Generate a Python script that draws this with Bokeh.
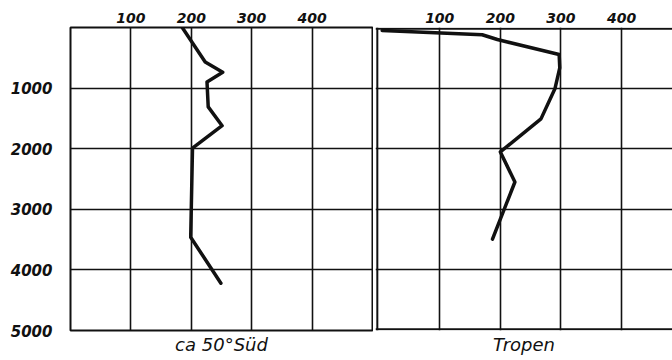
from bokeh.plotting import figure
from bokeh.layouts import row
from bokeh.models import Range1d, FixedTicker, LinearAxis, Span
from bokeh.embed import file_html
from bokeh.resources import INLINE

# Profile: Tiefe (m) gegen Messwert
sued_depth = [0, 570, 740, 900, 1310, 1620, 1990, 3460, 4220]
sued_value = [185, 223, 252, 226, 228, 251, 202, 199, 249]

tropen_depth = [30, 100, 180, 430, 650, 1000, 1500, 2050, 2550, 3500]
tropen_value = [5, 170, 195, 297, 298, 290, 267, 200, 224, 187]

x_ticks = [100, 200, 300, 400]
depth_ticks = [1000, 2000, 3000, 4000, 5000]
depth_inner = [1000, 2000, 3000, 4000]
depth_edges = [0, 5000]
panel_titles = ["ca 50°Süd", "Tropen"]

INK = "#111111"
FONT = "DejaVu Sans"


def bare_axis(axis):
    axis.axis_line_color = None
    axis.major_tick_line_color = None
    axis.minor_tick_line_color = None
    axis.major_tick_out = 0
    axis.major_tick_in = 0
    axis.minor_tick_out = 0
    axis.minor_tick_in = 0


def style_panel(p, title):
    p.background_fill_color = "white"
    p.border_fill_color = "white"
    p.xgrid.ticker = FixedTicker(ticks=x_ticks)
    p.ygrid.ticker = FixedTicker(ticks=depth_inner)
    for g in (p.xgrid, p.ygrid):
        g.grid_line_color = INK
        g.grid_line_width = 1.6
        g.grid_line_alpha = 1.0

    top = p.xaxis[0]
    bare_axis(top)
    top.ticker = FixedTicker(ticks=x_ticks)
    top.major_label_standoff = 5
    top.major_label_text_font = FONT
    top.major_label_text_font_style = "bold italic"
    top.major_label_text_font_size = "14px"
    top.major_label_text_color = INK

    bottom = LinearAxis(ticker=FixedTicker(ticks=[]), axis_label=title)
    bare_axis(bottom)
    bottom.axis_label_standoff = 3
    bottom.axis_label_text_font = FONT
    bottom.axis_label_text_font_style = "italic"
    bottom.axis_label_text_font_size = "18px"
    bottom.axis_label_text_color = INK
    p.add_layout(bottom, "below")


# linkes Feld: ca 50° Süd
left = figure(width=373, height=360, x_range=Range1d(0, 500), y_range=Range1d(5000, 0),
              x_axis_location="above", y_axis_location="left",
              toolbar_location=None, output_backend="svg",
              min_border_left=70, min_border_right=1, min_border_top=27, min_border_bottom=30)
style_panel(left, panel_titles[0])
left.outline_line_color = INK
left.outline_line_width = 2

ya = left.yaxis[0]
bare_axis(ya)
ya.ticker = FixedTicker(ticks=depth_ticks)
ya.major_label_standoff = 18
ya.major_label_text_font = FONT
ya.major_label_text_font_style = "bold italic"
ya.major_label_text_font_size = "15px"
ya.major_label_text_color = INK

left.line(sued_value, sued_depth, line_width=3.5, color=INK, line_join="round", line_cap="round")

# rechtes Feld: Tropen, rechter Rand offen; Rahmenlinien liegen knapp innerhalb der Bereiche
right = figure(width=299, height=360, x_range=Range1d(-6, 484), y_range=Range1d(5020, -20),
               x_axis_location="above", y_axis_location=None,
               toolbar_location=None, output_backend="svg",
               min_border_left=2, min_border_right=0, min_border_top=26, min_border_bottom=29)
style_panel(right, panel_titles[1])
right.outline_line_color = None
for d in depth_edges:
    right.add_layout(Span(location=d, dimension="width", line_color=INK, line_width=2))
right.add_layout(Span(location=-3, dimension="height", line_color=INK, line_width=2))

right.line(tropen_value, tropen_depth, line_width=3.5, color=INK, line_join="round", line_cap="round")

layout = row(left, right)
open("out.html", "w").write(file_html(layout, INLINE))
